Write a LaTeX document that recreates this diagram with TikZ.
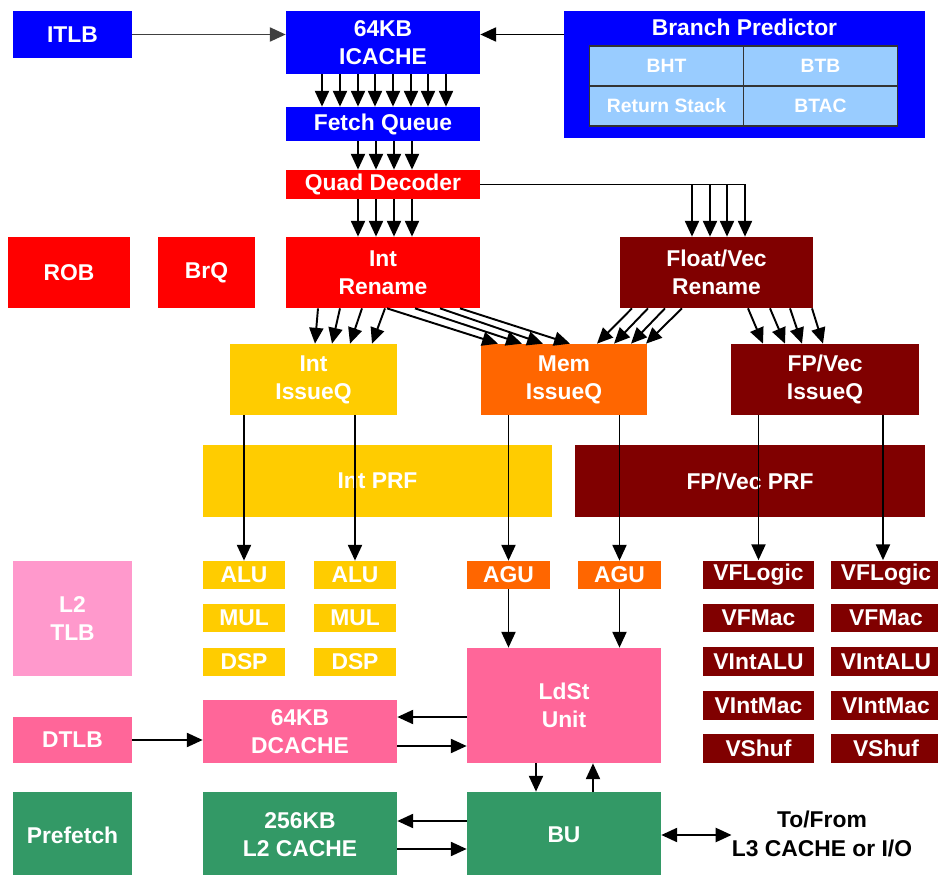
\documentclass[tikz,border=0pt]{standalone}
\usepackage{fontspec}
\setmainfont{Liberation Sans}
\usetikzlibrary{arrows.meta,calc}
\definecolor{cpublue}{HTML}{0000FF}
\definecolor{cpured}{HTML}{FF0000}
\definecolor{cpumaroon}{HTML}{800000}
\definecolor{cpuyellow}{HTML}{FFCC00}
\definecolor{cpuorange}{HTML}{FF6600}
\definecolor{cpupink}{HTML}{FF6699}
\definecolor{cpulightpink}{HTML}{FF99CC}
\definecolor{cpugreen}{HTML}{339966}
\definecolor{bplight}{HTML}{99CCFF}
\tikzset{
>={Triangle[length=9pt,width=8pt]},
unit/.style={rectangle,inner sep=0pt,text=white,align=center,font=\bfseries\fontsize{13}{16}\selectfont},
exec unit/.style={unit,minimum width=1.66cm,minimum height=0.56cm},
vec unit/.style={unit,fill=cpumaroon,minimum width=2.22cm,minimum height=0.58cm},
bp cell/.style={rectangle,draw=black!80,line width=0.6pt,fill=bplight,minimum width=3.08cm,minimum height=0.8cm,text=white,font=\bfseries\fontsize{11}{13}\selectfont},
dataflow/.style={->,line width=1.1pt}}

\begin{document}
\begin{tikzpicture}[x=0.02cm,y=-0.02cm]
\useasboundingbox (0,0) rectangle (938,875);

% front end
\node[unit,fill=cpublue,minimum width=2.38cm,minimum height=0.94cm] (itlb) at (72.5,34.5) {ITLB};
\node[unit,fill=cpublue,minimum width=3.88cm,minimum height=1.26cm] (icache) at (383,42.5) {64KB\\ICACHE};
\node[unit,fill=cpublue,minimum width=7.22cm,minimum height=2.54cm] (bp) at (744.5,74.5) {};
\node[unit] (bptitle) at (744.5,27) {Branch Predictor};
\node[bp cell] (bht) at (666.5,66) {BHT};
\node[bp cell] (btb) at (820.5,66) {BTB};
\node[bp cell] (ras) at (666.5,106) {Return Stack};
\node[bp cell] (btac) at (820.5,106) {BTAC};
\node[unit,fill=cpublue,minimum width=3.88cm,minimum height=0.68cm] (fq) at (383,124) {Fetch Queue};
\node[unit,fill=cpured,minimum width=3.88cm,minimum height=0.58cm] (qd) at (383,184.5) {Quad Decoder};

% rename and issue
\node[unit,fill=cpured,minimum width=2.44cm,minimum height=1.42cm] (rob) at (69,272.5) {ROB};
\node[unit,fill=cpured,minimum width=1.94cm,minimum height=1.42cm] (brq) at (206.5,272.5) {BrQ};
\node[unit,fill=cpured,minimum width=3.88cm,minimum height=1.42cm] (iren) at (383,272.5) {Int\\Rename};
\node[unit,fill=cpumaroon,minimum width=3.86cm,minimum height=1.42cm] (fvren) at (716.5,272.5) {Float/Vec\\Rename};
\node[unit,fill=cpuyellow,minimum width=3.34cm,minimum height=1.42cm] (iiq) at (313.5,379.5) {Int\\IssueQ};
\node[unit,fill=cpuorange,minimum width=3.32cm,minimum height=1.42cm] (miq) at (564,379.5) {Mem\\IssueQ};
\node[unit,fill=cpumaroon,minimum width=3.76cm,minimum height=1.42cm] (fiq) at (825,379.5) {FP/Vec\\IssueQ};
\node[unit,fill=cpuyellow,minimum width=6.98cm,minimum height=1.44cm] (iprf) at (377.5,481) {Int PRF};
\node[unit,fill=cpumaroon,minimum width=7cm,minimum height=1.44cm] (fprf) at (750,481) {FP/Vec PRF};

% execution units
\foreach \n/\y in {ALU/575,MUL/618,DSP/662}{
  \node[exec unit,fill=cpuyellow] (\n a) at (244,\y) {\n};
  \node[exec unit,fill=cpuyellow] (\n b) at (355,\y) {\n};
}
\node[exec unit,fill=cpuorange] (agua) at (508.5,575) {AGU};
\node[exec unit,fill=cpuorange] (agub) at (619.5,575) {AGU};
\foreach \n/\y in {VFLogic/575,VFMac/618,VIntALU/661.5,VIntMac/705.5,VShuf/748.5}{
  \node[vec unit] (\n a) at (758.5,\y) {\n};
  \node[vec unit] (\n b) at (886,\y) {\n};
}

% memory side
\node[unit,fill=cpulightpink,minimum width=2.38cm,minimum height=2.3cm] (l2tlb) at (72.5,618.5) {L2\\TLB};
\node[unit,fill=cpupink,minimum width=3.88cm,minimum height=2.3cm] (ldst) at (564,705.5) {LdSt\\Unit};
\node[unit,fill=cpupink,minimum width=3.88cm,minimum height=1.26cm] (dcache) at (300,731.5) {64KB\\DCACHE};
\node[unit,fill=cpupink,minimum width=2.38cm,minimum height=0.92cm] (dtlb) at (72.5,740) {DTLB};
\node[unit,fill=cpugreen,minimum width=2.38cm,minimum height=1.72cm] (pref) at (72.5,835) {Prefetch};
\node[unit,fill=cpugreen,minimum width=3.88cm,minimum height=1.72cm] (l2) at (300,835) {256KB\\L2 CACHE};
\node[unit,fill=cpugreen,minimum width=3.88cm,minimum height=1.72cm] (bu) at (564,835) {BU};
\node[unit,text=black] (ext) at (822,834) {To/From\\L3 CACHE or I/O};

% connections
\draw[dataflow,black!75] (itlb.east) -- (itlb.east -| icache.west);
\draw[dataflow] (bp.west |- itlb.east) -- (icache.east |- itlb.east);
\foreach \x in {322,340,358,375,393,411,428,446}
  \draw[dataflow] (\x,0 |- icache.south) -- (\x,0 |- fq.north);
\foreach \x in {358,376,394,412}{
  \draw[dataflow] (\x,0 |- fq.south) -- (\x,0 |- qd.north);
  \draw[dataflow] (\x,0 |- qd.south) -- (\x,0 |- iren.north);
}
\draw[line width=1.1pt] (qd.east) -- (745,0 |- qd.east);
\foreach \x in {692,710,727,745}
  \draw[dataflow] (\x,0 |- qd.east) -- (\x,0 |- fvren.north);
\foreach \a/\b in {318/315,340/332,362/350,385/372}
  \draw[dataflow] (\a,0 |- iren.south) -- (\b,0 |- iiq.north);
\foreach \a/\b in {387/498,415/522,440/543,460/570}
  \draw[dataflow] (\a,0 |- iren.south) -- (\b,0 |- miq.north);
\foreach \a/\b in {632/597,648/614,665/631,682/646}
  \draw[dataflow] (\a,0 |- fvren.south) -- (\b,0 |- miq.north);
\foreach \a/\b in {748/763,770/785,790/802,812/823}
  \draw[dataflow] (\a,0 |- fvren.south) -- (\b,0 |- fiq.north);

\draw[dataflow] (ALUa.north |- iiq.south) -- (ALUa.north);
\draw[dataflow] (ALUb.north |- iiq.south) -- (ALUb.north);
\draw[dataflow] (agua.north |- miq.south) -- (agua.north);
\draw[dataflow] (agub.north |- miq.south) -- (agub.north);
\draw[dataflow] (VFLogica.north |- fiq.south) -- (VFLogica.north);
\draw[dataflow] (883,0 |- fiq.south) -- (883,0 |- VFLogicb.north);
\draw[dataflow] (agua.south) -- (agua.south |- ldst.north);
\draw[dataflow] (agub.south) -- (agub.south |- ldst.north);

\coordinate (dcout) at ([yshift=0.29cm]dcache.east);
\coordinate (dcin) at ([yshift=-0.29cm]dcache.east);
\draw[dataflow] (dcout -| ldst.west) -- (dcout);
\draw[dataflow] (dcin) -- (dcin -| ldst.west);
\draw[dataflow] (dtlb.east) -- (dtlb.east -| dcache.west);

\coordinate (busdown) at ([xshift=-0.56cm]ldst.south);
\coordinate (busup) at ([xshift=0.58cm]ldst.south);
\draw[dataflow] (busdown) -- (busdown |- bu.north);
\draw[dataflow] (busup |- bu.north) -- (busup);

\coordinate (l2out) at ([yshift=0.28cm]l2.east);
\coordinate (l2in) at ([yshift=-0.28cm]l2.east);
\draw[dataflow] (l2out -| bu.west) -- (l2out);
\draw[dataflow] (l2in) -- (l2in -| bu.west);
\draw[dataflow,<->] (bu.east) -- (bu.east -| ext.west);

\end{tikzpicture}
\end{document}
